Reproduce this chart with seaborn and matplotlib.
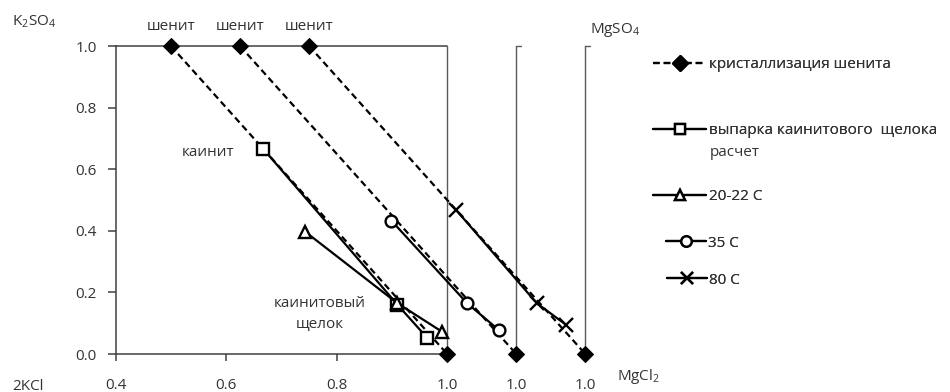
import numpy as np
import pandas as pd
import matplotlib
matplotlib.use("Agg")
import matplotlib.pyplot as plt
import seaborn as sns
from matplotlib.lines import Line2D

# ---------------- data ----------------
shenit_group = [1, 1, 2, 2, 3, 3]
shenit_x = [0.5, 1.0, 0.625, 1.125, 0.75, 1.25]
shenit_y = [1.0, 0.0, 1.0, 0.0, 1.0, 0.0]

calc_x = [0.667, 0.910, 0.964]
calc_y = [0.666, 0.160, 0.052]

t20_x = [0.743, 0.909, 0.990]
t20_y = [0.397, 0.166, 0.073]

t35_x = [0.899, 1.036, 1.094]
t35_y = [0.433, 0.165, 0.077]

t80_x = [1.016, 1.162, 1.215]
t80_y = [0.468, 0.165, 0.095]

diagram_right = [1.0, 1.125, 1.25]
x_ticks = [0.4, 0.6, 0.8, 1.0, 1.125, 1.25]
x_tick_labels = ["0.4", "0.6", "0.8", "1.0", "1.0", "1.0"]
y_ticks = [0.0, 0.2, 0.4, 0.6, 0.8, 1.0]
y_tick_labels = ["0.0", "0.2", "0.4", "0.6", "0.8", "1.0"]

labels = ["кристаллизация шенита", "выпарка каинитового  щелока", "20-22 C", "35 C", "80 C"]

# ---------------- style ----------------
sns.set_theme(style="white")
plt.rcParams["font.family"] = ["Open Sans", "DejaVu Sans"]
plt.rcParams["mathtext.fontset"] = "custom"
plt.rcParams["mathtext.rm"] = "Open Sans"
FS = 11
TXT = "#333333"
AX = "#404040"
BOX = "#5a5a5a"

W, H = 950, 392
fig = plt.figure(figsize=(W / 100, H / 100), dpi=100)
ax = fig.add_axes([115.7 / W, 38 / H, 552.5 / W, 308 / H])
ax.set_xlim(0.4, 1.4)
ax.set_ylim(0, 1)

LW = 1.6
dash_style = dict(color="black", linewidth=LW, linestyle=(0, (3.0, 1.8)),
                  marker="D", markersize=8.5, markerfacecolor="black",
                  markeredgecolor="black")
open_style = dict(color="black", linewidth=LW, markerfacecolor="white",
                  markeredgecolor="black", markeredgewidth=1.7)

df_sh = pd.DataFrame({"x": shenit_x, "y": shenit_y, "g": shenit_group})
sns.lineplot(data=df_sh, x="x", y="y", units="g", estimator=None, sort=False,
             ax=ax, legend=False, clip_on=False, zorder=3, **dash_style)

series = [
    (calc_x, calc_y, "s", 8.5),
    (t20_x, t20_y, "^", 8),
    (t35_x, t35_y, "o", 8.5),
    (t80_x, t80_y, "x", 10),
]
for xs, ys, m, ms in series:
    sns.lineplot(x=xs, y=ys, sort=False, estimator=None, ax=ax, legend=False,
                 marker=m, markersize=ms, zorder=4, clip_on=False, **open_style)

# diagram frames
ax.plot([0.4, diagram_right[0]], [1, 1], color=AX, lw=1.1, zorder=1, clip_on=False)
for i, xr in enumerate(diagram_right):
    ax.plot([xr, xr], [0, 1], color=BOX, lw=1.0, zorder=1, clip_on=False)
    if i > 0:
        ax.plot([xr, xr + 0.008], [1, 1], color=BOX, lw=1.0, zorder=1, clip_on=False)

# axes styling
for s in ["top", "right"]:
    ax.spines[s].set_visible(False)
for s in ["left", "bottom"]:
    ax.spines[s].set_color(AX)
    ax.spines[s].set_linewidth(1.1)
ax.spines["bottom"].set_bounds(0.4, 1.0)

ax.set_xticks(x_ticks)
ax.set_xticklabels(x_tick_labels)
ax.set_yticks(y_ticks)
ax.set_yticklabels(y_tick_labels)
ax.tick_params(axis="x", direction="out", length=5, width=1.1, color=AX,
               labelsize=FS, labelcolor=TXT, pad=12, bottom=True)
ax.tick_params(axis="y", direction="out", length=5.5, width=1.1, color=AX,
               labelsize=FS, labelcolor=TXT, pad=8, left=True)
for i, t in enumerate(ax.xaxis.get_major_ticks()):
    if i >= 3:
        t.tick1line.set_visible(False)
ax.set_xlabel("")
ax.set_ylabel("")
ax.grid(False)

# annotations
for i in range(0, len(shenit_x), 2):
    ax.annotate("шенит", xy=(shenit_x[i], shenit_y[i]), xytext=(0, 19),
                textcoords="offset pixels", ha="center", va="center",
                fontsize=FS, color=TXT)
ax.annotate("каинит", xy=(calc_x[0], calc_y[0]), xytext=(-55, -4),
            textcoords="offset pixels", ha="center", va="center",
            fontsize=FS, color=TXT)
ax.annotate("каинитовый\nщелок", xy=(calc_x[1], calc_y[1]), xytext=(-78, -9),
            textcoords="offset pixels", ha="center", va="center",
            fontsize=FS, color=TXT, linespacing=1.55, multialignment="center")

def ftext(px, py, s, **kw):
    fig.text(px / W, 1 - py / H, s, fontsize=FS, color=TXT, va="center", **kw)

ftext(12, 22, r"K$_2$SO$_4$", ha="left")
ftext(590, 30, r"MgSO$_4$", ha="left")
ftext(12, 386, "2KCl", ha="left")
ftext(617, 376, r"MgCl$_2$", ha="left")

# legend (one entry each, positioned like the reference)
handles = [
    Line2D([], [], **dash_style),
    Line2D([], [], marker="s", markersize=7.5, **open_style),
    Line2D([], [], marker="^", markersize=7.5, **open_style),
    Line2D([], [], marker="o", markersize=7.5, **open_style),
    Line2D([], [], marker="x", markersize=8.5, **open_style),
]
leg_pos = [(653, 65, 3.5), (653, 131, 3.5), (653, 197, 3.5), (666, 243, 2.6), (667, 280, 2.6)]
for h, lab, (px, py, hl) in zip(handles, labels, leg_pos):
    lg = fig.legend([h], [lab], loc="center left", bbox_to_anchor=(px / W, 1 - py / H),
                    frameon=False, fontsize=FS, handlelength=hl, handletextpad=0.15,
                    borderpad=0, borderaxespad=0, labelcolor=TXT)
    fig.add_artist(lg)
ftext(710, 152, "расчет", ha="left")

fig.savefig("out.png", dpi=100, facecolor="white")
